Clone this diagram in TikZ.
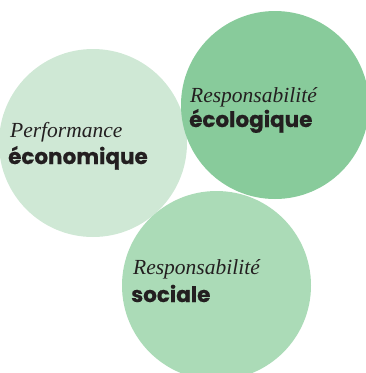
\documentclass[tikz,border=0pt]{standalone}
\usepackage{fontspec}
\setmainfont{Liberation Serif}
\newfontfamily\headsans[FakeBold=0.6]{Poppins}
\usetikzlibrary{positioning}
\definecolor{pale}{HTML}{CFE8D5}
\definecolor{mid}{HTML}{ABDBB7}
\definecolor{deep}{HTML}{88CB9B}
\definecolor{ink}{HTML}{231F20}
\tikzset{
  pillar/.style={circle,minimum size=188pt,inner sep=0pt},
  lead/.style={anchor=base west,inner sep=0pt,text=ink,font=\fontsize{21.5}{24}\selectfont\itshape},
  topic/.style={anchor=base west,inner sep=0pt,text=ink,font=\headsans\bfseries\fontsize{21.5}{24}\selectfont}
}

\begin{document}
\begin{tikzpicture}[x=1pt,y=-1pt]
\useasboundingbox (0,0) rectangle (366,373);
\node[pillar, fill=pale] (eco) at (93,143) {};
\node[pillar, fill=mid, minimum size=189pt] (soc) at (216.5,285.5) {};
\node[pillar, fill=deep] (env) at (275,105) {};
\node[lead] (ecoa) at (10,137) {Performance};
\node[topic] (ecob) at (8,164) {économique};
\node[lead] (enva) at (190,102) {Responsabilité};
\node[topic] (envb) at (189,127) {écologique};
\node[lead] (soca) at (133,274) {Responsabilité};
\node[topic] (socb) at (131,302) {sociale};
\end{tikzpicture}
\end{document}
